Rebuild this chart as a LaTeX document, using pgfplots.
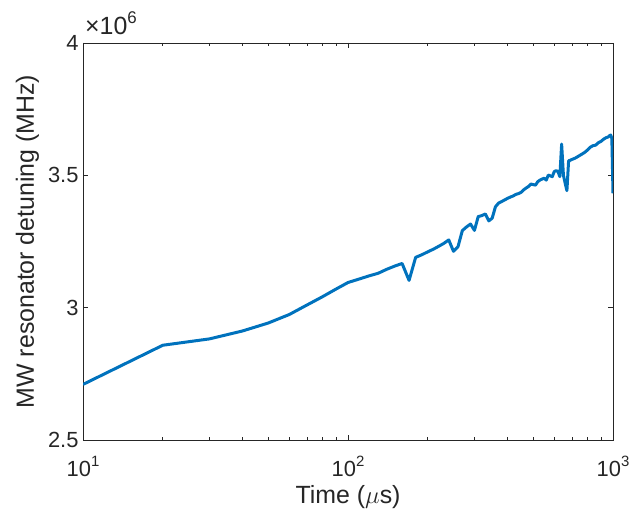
\documentclass[border=0pt]{standalone}
\usepackage{fontspec}
\setmainfont{Liberation Sans}
\usepackage{pgfplots}
\pgfplotsset{compat=1.18}
\definecolor{mblue}{rgb}{0,0.447,0.741}
\definecolor{mgray}{rgb}{0.15,0.15,0.15}
\newcommand\supx[1]{\raisebox{0.45em}{\fontsize{15}{15}\selectfont #1}}

\begin{document}
\begin{tikzpicture}
\begin{axis}[
  xmode=log,
  width=530bp, height=397bp, scale only axis,
  xmin=10, xmax=1000,
  ymin=2.5e6, ymax=4e6,
  xtick={10,100,1000},
  xticklabels={10\supx{1},10\supx{2},10\supx{3}},
  ytick={2.5e6,3e6,3.5e6,4e6},
  yticklabels={2.5,3,3.5,4},
  scaled y ticks=false,
  minor y tick num=0,
  tick align=inside,
  major tick length=5.5bp,
  minor tick length=3.5bp,
  axis line style={mgray, line width=0.7bp},
  every tick/.style={mgray, line width=0.6bp},
  tick label style={font=\fontsize{22}{25}\selectfont, text=mgray},
  xticklabel style={anchor=base, yshift=-36bp},
  yticklabel style={anchor=east, xshift=-1bp},
  label style={font=\fontsize{25}{28}\selectfont, text=mgray},
  xlabel={Time ($\mu$s)},
  ylabel={MW resonator detuning (MHz)},
  xlabel style={at={(axis description cs:0.5,-0.1587)}, anchor=base},
  ylabel style={at={(axis description cs:-0.0925,0.5)}, anchor=base, rotate=0},
]
\addplot[mblue, line width=3bp, line join=round] coordinates {
(10,2.710e6)(20,2.858e6)(30,2.882e6)(40,2.912e6)(50,2.942e6)(60,2.974e6)
(70,3.010e6)(80,3.041e6)(90,3.070e6)(100,3.095e6)(110,3.108e6)(120,3.120e6)
(130,3.130e6)(140,3.145e6)(150,3.157e6)(160,3.167e6)(170,3.103e6)(180,3.190e6)
(190,3.200e6)(200,3.211e6)(210,3.221e6)(220,3.232e6)(230,3.243e6)(240,3.256e6)
(250,3.213e6)(260,3.230e6)(270,3.291e6)(280,3.305e6)(290,3.316e6)(300,3.292e6)
(310,3.344e6)(320,3.348e6)(330,3.354e6)(340,3.328e6)(350,3.338e6)(360,3.381e6)
(370,3.395e6)(380,3.401e6)(390,3.407e6)(400,3.413e6)(410,3.418e6)(420,3.422e6)
(430,3.428e6)(440,3.431e6)(450,3.436e6)(460,3.445e6)(470,3.452e6)(480,3.458e6)
(490,3.467e6)(500,3.465e6)(510,3.463e6)(520,3.476e6)(530,3.482e6)(540,3.486e6)
(550,3.489e6)(560,3.482e6)(570,3.501e6)(580,3.498e6)(590,3.495e6)(600,3.514e6)
(610,3.518e6)(620,3.514e6)(630,3.495e6)(640,3.618e6)(650,3.500e6)(660,3.470e6)
(670,3.442e6)(680,3.555e6)(690,3.557e6)(700,3.560e6)(720,3.565e6)(740,3.572e6)
(760,3.579e6)(780,3.586e6)(800,3.595e6)(820,3.606e6)(840,3.612e6)(860,3.614e6)
(880,3.623e6)(900,3.628e6)(920,3.636e6)(940,3.642e6)(960,3.645e6)(970,3.650e6)
(980,3.652e6)(990,3.640e6)(1000,3.432e6)
};
\coordinate (sw) at (rel axis cs:0,0);
\coordinate (ne) at (rel axis cs:1,1);
\coordinate (nw) at (rel axis cs:0,1);
\end{axis}
\node[anchor=base west, inner sep=0pt, text=mgray]
  at ([xshift=2bp,yshift=8bp]nw)
  {\fontsize{25}{28}\selectfont ×10\raisebox{0.45em}{\fontsize{17}{17}\selectfont 6}};
\pgfresetboundingbox
\path ([xshift=-83bp,yshift=-76bp]sw) rectangle ([xshift=19bp,yshift=43bp]ne);
\end{tikzpicture}
\end{document}
